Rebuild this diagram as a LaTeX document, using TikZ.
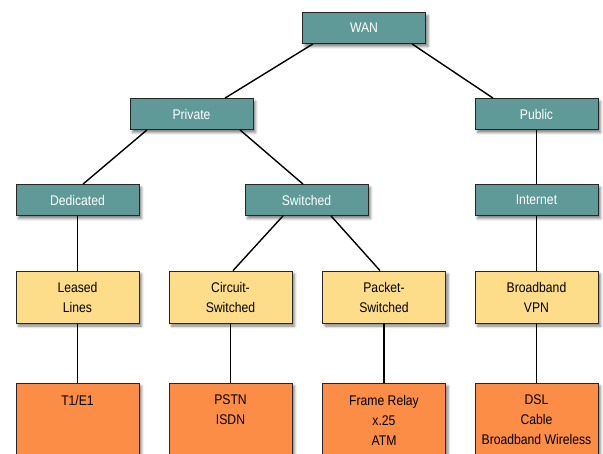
\documentclass[tikz,border=0pt]{standalone}
\usepackage{fontspec}
\setmainfont{Liberation Sans}[FakeStretch=0.87]
\usetikzlibrary{shapes,positioning,shadows.blur}
\usepackage{xcolor}
\definecolor{wanteal}{RGB}{95,154,152}
\definecolor{wanyellow}{RGB}{254,221,138}
\definecolor{wanorange}{RGB}{251,141,71}

\begin{document}
\begin{tikzpicture}[x=1pt, y=1pt, node distance=86pt, font=\fontsize{14pt}{20pt}\selectfont]
    \tikzstyle{box} = [rectangle, draw=black!85, line width=0.8pt, minimum width=123pt, text centered, blur shadow={shadow xshift=2.5pt, shadow yshift=-3pt, shadow blur radius=2.5pt, shadow opacity=50}]
    \tikzstyle{group} = [box, fill=wanteal, text=white, minimum height=31pt]
    \tikzstyle{service} = [box, fill=wanyellow, minimum height=52pt, align=center]
    \tikzstyle{tech} = [box, fill=wanorange, minimum height=90pt]
    \tikzstyle{techtext} = [anchor=north, align=center, yshift=-9pt]
    \tikzstyle{line} = [line width=1.4pt]

    \useasboundingbox (0,0) rectangle (603,-454);

    % Nodes
    \node[group] (wan) at (364,-28) {WAN};
    \node[group, below of=wan, xshift=-172.5pt] (private) {Private};
    \node[group, below of=wan, xshift=172.5pt] (public) {Public};
    \node[group, below of=private, xshift=-114pt] (dedicated) {Dedicated};
    \node[group, below of=private, xshift=115pt] (switched) {Switched};
    \node[group, below of=public] (internet) {Internet};

    \node[service, below of=dedicated, yshift=-11pt] (leased) {Leased\\Lines};
    \node[service, below of=switched, xshift=-76pt, yshift=-11pt] (circuit) {Circuit-\\Switched};
    \node[service, below of=switched, xshift=77.5pt, yshift=-11pt] (packet) {Packet-\\Switched};
    \node[service, below of=internet, yshift=-11pt] (broadband) {Broadband\\VPN};

    \node[tech, below of=leased, yshift=-45pt, label={[techtext]north:T1/E1}] (t1) {};
    \node[tech, below of=circuit, yshift=-45pt, label={[techtext]north:PSTN\\ISDN}] (pstn) {};
    \node[tech, below of=packet, yshift=-45pt, label={[techtext]north:Frame Relay\\x.25\\ATM}] (frame) {};
    \node[tech, below of=broadband, yshift=-45pt, label={[techtext]north:DSL\\Cable\\Broadband Wireless}] (dsl) {};

    % Lines
    \draw[line] ([xshift=-51pt]wan.south) -- ([xshift=33.5pt]private.north);
    \draw[line] ([xshift=48pt]wan.south) -- ([xshift=-43.5pt]public.north);
    \draw[line] ([xshift=-44.5pt]private.south) -- ([xshift=5.5pt]dedicated.north);
    \draw[line] ([xshift=48.5pt]private.south) -- ([xshift=-3.5pt]switched.north);
    \draw[line] (public) -- (internet);
    \draw[line] (dedicated) -- (leased);
    \draw[line] ([xshift=-23.5pt]switched.south) -- ([xshift=2.5pt]circuit.north);
    \draw[line] ([xshift=24.5pt]switched.south) -- ([xshift=-4pt]packet.north);
    \draw[line] (internet) -- (broadband);
    \draw[line] (leased) -- (t1);
    \draw[line] (circuit) -- (pstn);
    \draw[line] (packet) -- (frame);
    \draw[line] (broadband) -- (dsl);
\end{tikzpicture}
\end{document}
